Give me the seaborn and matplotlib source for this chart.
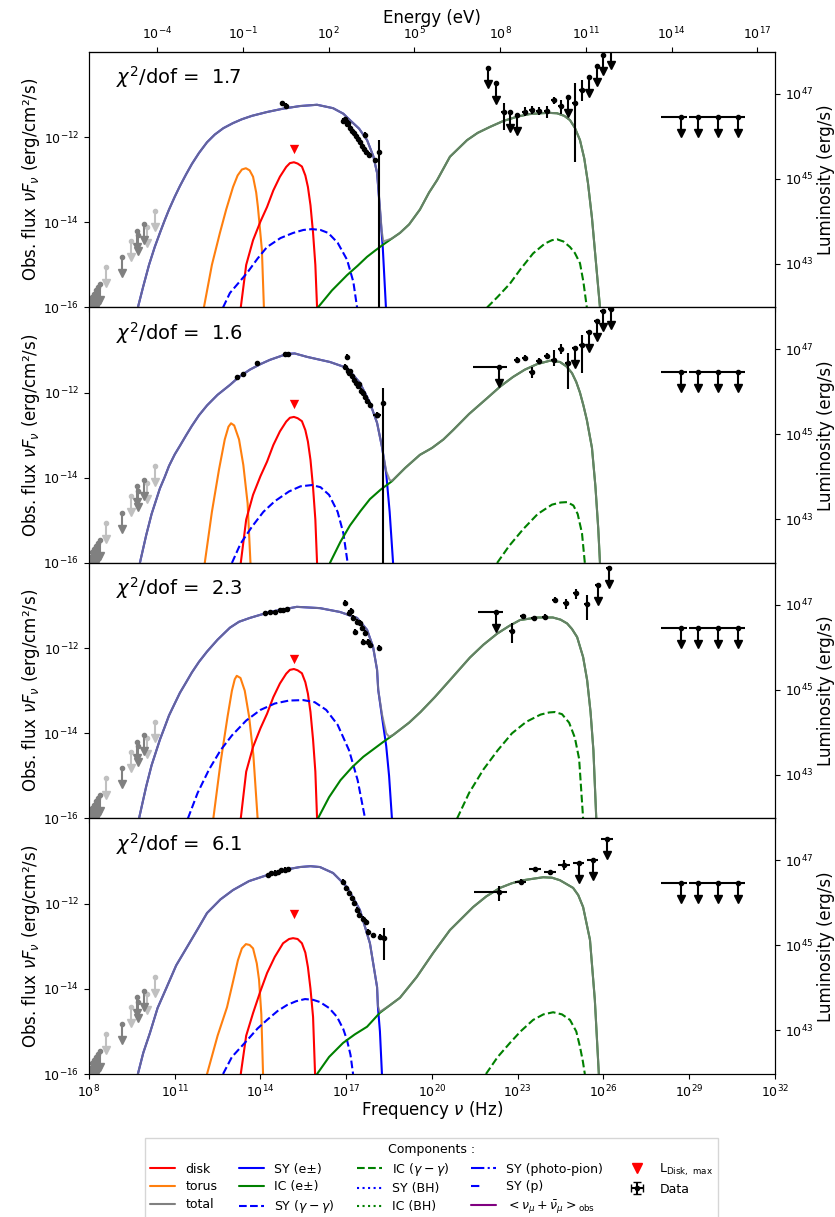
import numpy as np
import matplotlib
matplotlib.use('Agg')
import matplotlib.pyplot as plt
import matplotlib.ticker as mticker
from matplotlib.lines import Line2D
import seaborn as sns

# ---------------- data (log10 nu [Hz], log10 nuFnu [erg/cm2/s]) ----------------
CHI2 = ['1.7', '1.6', '2.3', '6.1']

# panel 1
P1_HUMP1_X = [9.71, 9.9, 10.1, 10.3, 10.48, 10.65, 10.8, 11.0, 11.18, 11.4, 11.6, 11.85, 12.13, 12.4, 12.7, 13.04, 13.35, 13.7, 14.23, 14.8, 15.38, 15.98, 16.54, 16.9, 17.13, 17.45, 17.73, 17.95, 18.08]
P1_HUMP1_Y = [-16.0, -15.5, -15.0, -14.58, -14.25, -13.95, -13.7, -13.4, -13.15, -12.87, -12.63, -12.37, -12.12, -11.94, -11.79, -11.67, -11.58, -11.5, -11.41, -11.33, -11.27, -11.24, -11.32, -11.45, -11.6, -11.8, -12.07, -12.45, -12.84]
P1_SYCUT_X = [18.18, 18.28, 18.39]
P1_SYCUT_Y = [-13.7, -14.6, -16.0]
P1_GAP_X = [18.18, 18.24, 18.3, 18.6]
P1_GAP_Y = [-13.65, -14.2, -14.45, -14.38]
P1_ICRISE_X = [16.01, 16.5, 17.03, 17.4, 17.73, 18.0, 18.3, 18.6]
P1_ICRISE_Y = [-16.0, -15.6, -15.24, -15.02, -14.81, -14.67, -14.52, -14.38]
P1_HUMP2_X = [18.88, 19.2, 19.58, 19.9, 20.18, 20.63, 21.23, 21.6, 22.03, 22.5, 22.98, 23.4, 23.78, 24.1, 24.38, 24.63, 24.83, 25.0, 25.18, 25.33, 25.46, 25.6, 25.7, 25.8, 25.88]
P1_HUMP2_Y = [-14.25, -14.05, -13.7, -13.3, -13.01, -12.46, -12.07, -11.9, -11.76, -11.62, -11.52, -11.46, -11.44, -11.43, -11.44, -11.5, -11.6, -11.78, -12.07, -12.5, -13.08, -13.9, -14.65, -15.4, -16.0]
P1_TORUS_X = [12.02, 12.3, 12.58, 12.8, 13.04, 13.2, 13.35, 13.49, 13.62, 13.74, 13.85, 13.91, 14.05, 14.12]
P1_TORUS_Y = [-16.0, -15.0, -14.25, -13.7, -13.17, -12.9, -12.76, -12.73, -12.78, -12.93, -13.3, -13.64, -14.65, -16.0]
P1_DISK_X = [13.31, 13.5, 13.74, 14.0, 14.23, 14.45, 14.68, 14.9, 15.03, 15.17, 15.3, 15.45, 15.57, 15.66, 15.75, 15.84, 15.92, 15.98]
P1_DISK_Y = [-16.0, -15.0, -14.42, -13.98, -13.64, -13.25, -12.93, -12.7, -12.61, -12.59, -12.62, -12.69, -12.9, -13.17, -13.6, -14.25, -15.0, -16.0]
P1_SYGG_X = [12.69, 12.93, 13.53, 13.9, 14.23, 14.7, 15.14, 15.5, 15.8, 16.1, 16.37, 16.7, 17.03, 17.25, 17.38]
P1_SYGG_Y = [-16.0, -15.66, -15.19, -14.85, -14.58, -14.37, -14.25, -14.18, -14.16, -14.18, -14.25, -14.48, -14.88, -15.4, -16.0]
P1_ICGG_X = [21.93, 22.3, 22.73, 23.1, 23.54, 23.95, 24.2, 24.38, 24.6, 24.83, 25.0, 25.18, 25.3, 25.42]
P1_ICGG_Y = [-16.0, -15.75, -15.44, -15.1, -14.73, -14.5, -14.42, -14.4, -14.45, -14.58, -14.72, -14.96, -15.4, -16.0]

# panel 2
P2_HUMP1_X = [9.78, 10.0, 10.19, 10.48, 10.65, 10.8, 11.0, 11.18, 11.4, 11.6, 11.85, 12.13, 12.5, 12.93, 13.25, 13.63, 14.0, 14.33, 14.93, 15.2, 15.63, 16.43, 17.03, 17.48, 17.83, 18.08, 18.25]
P2_HUMP1_Y = [-16.0, -15.35, -14.85, -14.25, -13.98, -13.72, -13.45, -13.25, -13.0, -12.78, -12.53, -12.3, -12.05, -11.82, -11.63, -11.46, -11.33, -11.23, -11.09, -11.08, -11.16, -11.28, -11.42, -11.77, -12.24, -12.71, -13.27]
P2_SYCUT_X = [18.4, 18.52, 18.64]
P2_SYCUT_Y = [-13.9, -14.8, -16.0]
P2_GAP_X = [18.4, 18.52, 18.6]
P2_GAP_Y = [-13.85, -14.05, -14.07]
P2_ICRISE_X = [16.43, 16.8, 17.13, 17.5, 17.83, 18.2, 18.6]
P2_ICRISE_Y = [-16.0, -15.5, -15.12, -14.78, -14.5, -14.28, -14.08]
P2_HUMP2_X = [19.06, 19.58, 20.0, 20.4, 20.74, 21.3, 21.93, 22.4, 22.84, 23.25, 23.68, 24.13, 24.48, 24.7, 24.9, 25.05, 25.18, 25.3, 25.42, 25.6, 25.72, 25.82, 25.88]
P2_HUMP2_Y = [-13.77, -13.46, -13.3, -13.1, -12.88, -12.5, -12.13, -11.85, -11.63, -11.46, -11.33, -11.25, -11.28, -11.38, -11.54, -11.75, -12.0, -12.3, -12.64, -13.3, -14.2, -15.2, -16.0]
P2_TORUS_X = [12.05, 12.3, 12.55, 12.75, 12.88, 12.97, 13.08, 13.25, 13.4, 13.55, 13.65]
P2_TORUS_Y = [-16.0, -14.8, -13.8, -13.1, -12.8, -12.72, -12.77, -13.1, -13.7, -14.6, -16.0]
P2_DISK_X = [13.31, 13.5, 13.74, 14.0, 14.23, 14.45, 14.68, 14.9, 15.03, 15.17, 15.3, 15.45, 15.57, 15.66, 15.75, 15.84, 15.92, 15.98]
P2_DISK_Y = [-16.0, -14.98, -14.4, -13.96, -13.62, -13.23, -12.91, -12.68, -12.59, -12.57, -12.6, -12.67, -12.88, -13.15, -13.58, -14.23, -14.98, -16.0]
P2_SYGG_X = [13.0, 13.3, 13.7, 14.1, 14.5, 15.0, 15.4, 15.8, 16.1, 16.4, 16.7, 16.9, 17.05]
P2_SYGG_Y = [-16.0, -15.55, -15.15, -14.8, -14.55, -14.32, -14.2, -14.17, -14.22, -14.4, -14.8, -15.3, -16.0]
P2_ICGG_X = [22.28, 22.7, 23.2, 23.7, 24.2, 24.5, 24.73, 24.95, 25.1, 25.25, 25.35]
P2_ICGG_Y = [-16.0, -15.6, -15.2, -14.85, -14.63, -14.58, -14.57, -14.65, -14.85, -15.3, -16.0]

# panel 3
P3_HUMP1_X = [9.75, 10.0, 10.19, 10.48, 10.65, 10.8, 11.0, 11.18, 11.4, 11.6, 11.85, 12.13, 12.5, 12.93, 13.25, 13.63, 14.33, 15.27, 16.08, 16.78, 17.38, 17.73, 17.94, 18.08, 18.12]
P3_HUMP1_Y = [-16.0, -15.25, -14.75, -14.15, -13.85, -13.58, -13.3, -13.05, -12.8, -12.57, -12.32, -12.08, -11.8, -11.52, -11.38, -11.29, -11.15, -11.03, -11.06, -11.15, -11.29, -11.57, -11.97, -12.51, -12.98]
P3_SYCUT_X = [18.25, 18.4, 18.5, 18.6]
P3_SYCUT_Y = [-13.6, -14.3, -15.0, -16.0]
P3_GAP_X = [18.25, 18.4, 18.5, 18.64]
P3_GAP_Y = [-13.55, -14.0, -14.08, -14.04]
P3_ICRISE_X = [16.01, 16.4, 16.8, 17.2, 17.6, 18.0, 18.3, 18.64]
P3_ICRISE_Y = [-16.0, -15.5, -15.1, -14.8, -14.55, -14.35, -14.2, -14.04]
P3_HUMP2_X = [19.2, 19.6, 20.1, 20.63, 21.33, 21.8, 22.28, 22.7, 23.08, 23.68, 24.23, 24.5, 24.73, 24.9, 25.08, 25.29, 25.43, 25.55, 25.65, 25.75]
P3_HUMP2_Y = [-13.75, -13.5, -13.15, -12.75, -12.22, -11.92, -11.66, -11.48, -11.34, -11.28, -11.28, -11.33, -11.42, -11.55, -11.74, -12.21, -12.75, -13.5, -14.4, -16.0]
P3_TORUS_X = [12.35, 12.6, 12.85, 13.0, 13.1, 13.17, 13.3, 13.45, 13.6, 13.75, 13.9]
P3_TORUS_Y = [-16.0, -14.7, -13.6, -13.0, -12.73, -12.65, -12.7, -13.0, -13.6, -14.5, -16.0]
P3_DISK_X = [13.31, 13.5, 13.74, 14.0, 14.23, 14.45, 14.68, 14.9, 15.03, 15.17, 15.3, 15.45, 15.57, 15.66, 15.75, 15.84, 15.92, 15.98]
P3_DISK_Y = [-16.0, -14.9, -14.32, -13.88, -13.54, -13.15, -12.83, -12.6, -12.51, -12.49, -12.52, -12.59, -12.8, -13.07, -13.5, -14.15, -14.9, -16.0]
P3_SYGG_X = [11.46, 11.8, 12.2, 12.6, 13.0, 13.5, 14.0, 14.5, 15.0, 15.5, 15.9, 16.3, 16.7, 17.1, 17.4, 17.66]
P3_SYGG_Y = [-16.0, -15.4, -14.85, -14.4, -14.05, -13.7, -13.45, -13.3, -13.23, -13.22, -13.27, -13.45, -13.8, -14.4, -15.1, -16.0]
P3_ICGG_X = [20.88, 21.3, 21.8, 22.3, 22.8, 23.3, 23.8, 24.1, 24.3, 24.55, 24.8, 25.0, 25.15, 25.29]
P3_ICGG_Y = [-16.0, -15.4, -14.85, -14.4, -14.0, -13.73, -13.56, -13.51, -13.5, -13.55, -13.75, -14.1, -14.6, -16.0]

# panel 4
P4_HUMP1_X = [9.71, 9.9, 10.13, 10.4, 10.72, 11.05, 11.43, 11.8, 12.13, 12.6, 13.04, 13.6, 14.23, 14.8, 15.38, 15.75, 16.08, 16.54, 17.03, 17.48, 17.83, 18.08]
P4_HUMP1_Y = [-16.0, -15.5, -15.04, -14.45, -13.96, -13.45, -13.02, -12.6, -12.22, -11.9, -11.68, -11.47, -11.33, -11.21, -11.14, -11.12, -11.14, -11.28, -11.61, -12.15, -12.93, -13.96]
P4_SYCUT_X = [18.11, 18.18, 18.25]
P4_SYCUT_Y = [-14.43, -15.0, -16.0]
P4_GAP_X = [18.11, 18.15, 18.18, 18.5]
P4_GAP_Y = [-14.4, -14.5, -14.54, -14.4]
P4_ICRISE_X = [15.98, 16.4, 16.89, 17.3, 17.73, 18.18, 18.5]
P4_ICRISE_Y = [-16.0, -15.6, -15.27, -15.07, -14.89, -14.56, -14.4]
P4_HUMP2_X = [18.88, 19.47, 20.04, 20.63, 21.44, 21.9, 22.38, 22.8, 23.19, 23.89, 24.2, 24.48, 24.94, 25.12, 25.29, 25.53, 25.70, 25.84]
P4_HUMP2_Y = [-14.21, -13.72, -13.16, -12.62, -12.08, -11.83, -11.63, -11.52, -11.45, -11.38, -11.39, -11.45, -11.63, -11.8, -12.08, -12.85, -14.26, -16.0]
P4_TORUS_X = [12.13, 12.5, 12.83, 13.05, 13.21, 13.35, 13.49, 13.62, 13.74, 13.87, 13.95, 14.03, 14.09]
P4_TORUS_Y = [-16.0, -15.1, -14.43, -13.8, -13.33, -13.05, -12.95, -12.97, -13.05, -13.4, -13.79, -14.6, -16.0]
P4_DISK_X = [13.31, 13.5, 13.74, 14.0, 14.23, 14.5, 14.79, 15.0, 15.14, 15.3, 15.45, 15.57, 15.66, 15.75, 15.84, 15.91]
P4_DISK_Y = [-16.0, -15.1, -14.57, -14.05, -13.63, -13.25, -12.93, -12.83, -12.81, -12.83, -12.93, -13.15, -13.49, -14.0, -14.66, -16.0]
P4_SYGG_X = [12.69, 13.0, 13.53, 13.9, 14.23, 14.6, 14.93, 15.25, 15.56, 15.85, 16.08, 16.4, 16.68, 16.9, 17.03, 17.15, 17.24]
P4_SYGG_Y = [-16.0, -15.6, -15.21, -14.93, -14.73, -14.52, -14.38, -14.29, -14.24, -14.26, -14.31, -14.45, -14.66, -14.95, -15.21, -15.55, -16.0]
P4_ICGG_X = [21.89, 22.3, 22.73, 23.1, 23.54, 23.9, 24.24, 24.55, 24.83, 25.05, 25.18, 25.28, 25.35]
P4_ICGG_Y = [-16.0, -15.6, -15.27, -15.0, -14.73, -14.6, -14.55, -14.6, -14.73, -15.0, -15.36, -15.7, -16.0]

# L_disk,max markers
LDISK_X = [15.17, 15.17, 15.17, 15.17]
LDISK_Y = [-12.28, -12.27, -12.26, -12.24]

# radio upper limits (same in every panel)
RADIO_LIGHT_X = [8.58, 9.47, 10.04, 10.31]
RADIO_LIGHT_Y = [-15.06, -14.43, -14.12, -13.73]
RADIO_DARK_X = [8.03, 8.1, 8.17, 8.25, 8.33, 8.4, 9.14, 9.69, 9.72, 9.91]
RADIO_DARK_Y = [-15.85, -15.75, -15.68, -15.6, -15.52, -15.45, -14.82, -14.2, -14.3, -14.04]

# VHE upper limits (same in every panel)
VHE_X = [28.71, 29.31, 30.01, 30.71]
VHE_Y = [-11.52, -11.52, -11.52, -11.52]
VHE_XLO = [28.01, 28.98, 29.61, 30.36]
VHE_XHI = [28.93, 29.61, 30.36, 30.95]

# optical / UV
OPT1_X = [14.75, 14.9]
OPT1_Y = [-11.2, -11.26]
OPT2_X = [13.18, 13.39, 13.87, 14.86, 14.97]
OPT2_Y = [-11.63, -11.56, -11.3, -11.09, -11.09]
OPT3_X = [14.16, 14.33, 14.51, 14.68, 14.79, 14.93]
OPT3_Y = [-11.18, -11.16, -11.15, -11.11, -11.1, -11.08]
OPT4_X = [14.26, 14.38, 14.5, 14.6, 14.72, 14.85, 14.95]
OPT4_Y = [-11.32, -11.29, -11.27, -11.25, -11.22, -11.2, -11.18]

# X-rays
XR1_X = [16.9, 16.97, 17.03, 17.08, 17.13, 17.2, 17.27, 17.33, 17.4, 17.47, 17.55, 17.62, 17.7, 17.78, 17.66, 18.0]
XR1_Y = [-11.62, -11.58, -11.7, -11.66, -11.78, -11.85, -11.9, -11.98, -12.05, -12.12, -12.2, -12.28, -12.35, -12.42, -11.95, -12.54]
XR2_X = [17.03, 16.96, 17.05, 17.1, 17.15, 17.2, 17.27, 17.33, 17.4, 17.45, 17.5, 17.58, 17.65, 17.72, 17.83, 18.07]
XR2_Y = [-11.16, -11.39, -11.48, -11.55, -11.5, -11.62, -11.7, -11.78, -11.85, -11.8, -11.95, -12.02, -12.1, -12.2, -12.29, -12.52]
XR3_X = [16.96, 17.1, 17.17, 17.24, 17.38, 17.48, 17.55, 17.31, 17.59, 17.66, 17.76, 17.83, 18.15]
XR3_Y = [-10.95, -11.17, -11.13, -11.3, -11.39, -11.41, -11.53, -11.62, -11.86, -11.65, -11.86, -11.93, -12.0]
XR4_X = [16.9, 17.01, 17.11, 17.19, 17.27, 17.37, 17.46, 17.6, 17.69, 17.76, 17.95, 18.18]
XR4_Y = [-11.48, -11.64, -11.76, -11.87, -11.99, -12.15, -12.26, -12.36, -12.42, -12.66, -12.74, -12.78]
# X-ray points with a large error bar (x, y, ylow, yhigh)
XBIG_X = [18.15, 18.3, 18.3, 18.32]
XBIG_Y = [-12.36, -12.25, -17.0, -12.81]
XBIG_LO = [-17.0, -17.0, -17.0, -13.32]
XBIG_HI = [-12.07, -11.89, -17.0, -12.58]

# Fermi-LAT detections
FD1_X = [22.52, 23.25, 23.5, 23.75, 24.02, 24.27, 24.51, 25.01, 25.25]
FD1_Y = [-11.4, -11.4, -11.36, -11.39, -11.39, -11.13, -11.26, -11.21, -10.89]
FD1_LO = [-11.83, -11.5, -11.45, -11.48, -11.55, -11.22, -11.45, -12.58, -11.15]
FD1_HI = [-11.2, -11.3, -11.27, -11.3, -11.26, -11.05, -11.12, -10.73, -10.65]
FD2_X = [22.98, 23.26, 23.5, 23.75, 24.03, 24.26, 24.51, 24.76, 25.24]
FD2_Y = [-11.23, -11.19, -11.51, -11.26, -11.14, -11.23, -10.98, -11.31, -10.88]
FD2_LO = [-11.3, -11.26, -11.65, -11.33, -11.2, -11.37, -11.1, -11.91, -11.53]
FD2_HI = [-11.16, -11.12, -11.39, -11.19, -11.08, -11.0, -10.86, -11.07, -10.65]
FD3_X = [22.8, 23.19, 23.57, 23.95, 24.3, 24.69, 25.04, 25.42]
FD3_Y = [-11.6, -11.25, -11.29, -11.27, -10.87, -10.94, -10.71, -10.96]
FD3_LO = [-11.88, -11.3, -11.34, -11.33, -10.95, -11.08, -10.85, -11.34]
FD3_HI = [-11.41, -11.2, -11.24, -11.2, -10.8, -10.84, -10.6, -10.75]
FD4_X = [22.35, 23.1, 23.61, 24.13, 24.62]
FD4_Y = [-11.72, -11.48, -11.19, -11.26, -11.09]
FD4_LO = [-11.93, -11.55, -11.23, -11.32, -11.2]
FD4_HI = [-11.59, -11.42, -11.15, -11.2, -10.98]
FD4_XLO = [21.47, 22.9, 23.41, 23.93, 24.42]
FD4_XHI = [22.62, 23.3, 23.81, 24.33, 24.82]

# Fermi-LAT upper limits
FU1_X = [21.96, 22.24, 22.73, 22.98, 24.76, 25.5, 25.76, 26.0, 26.26]
FU1_Y = [-10.38, -10.74, -11.41, -11.48, -11.05, -10.58, -10.34, -10.07, -9.92]
FU2_X = [22.35, 25.0, 25.49, 25.77, 25.98, 26.26]
FU2_Y = [-11.39, -10.96, -10.57, -10.32, -10.08, -10.04]
FU2_XLO = [21.44, 24.9, 25.39, 25.67, 25.88, 26.16]
FU2_XHI = [22.63, 25.1, 25.59, 25.87, 26.08, 26.36]
FU3_X = [22.24, 25.81, 26.19]
FU3_Y = [-11.14, -10.52, -10.12]
FU3_XLO = [21.61, 25.71, 26.09]
FU3_XHI = [22.49, 25.91, 26.29]
FU4_X = [25.13, 25.62, 26.12]
FU4_Y = [-11.04, -10.97, -10.47]
FU4_XLO = [24.93, 25.42, 25.92]
FU4_XHI = [25.33, 25.82, 26.32]

H_EV = 4.135667e-15      # eV s
LUM_FACTOR = 9.5e57      # 4 pi d_L^2 in cm^2

sns.set_style('ticks', {'axes.edgecolor': 'black', 'xtick.color': 'black', 'ytick.color': 'black',
                        'text.color': 'black', 'axes.labelcolor': 'black'})
plt.rcParams['font.family'] = ['DejaVu Sans']
plt.rcParams['mathtext.fontset'] = 'dejavusans'
plt.rcParams['xtick.labelsize'] = 9
plt.rcParams['ytick.labelsize'] = 9


def p10(a):
    return np.power(10.0, np.asarray(a, dtype=float))


def curve(ax, xs, ys, color, ls='-', alpha=1.0, z=2):
    sns.lineplot(x=p10(xs), y=p10(ys), ax=ax, color=color, linestyle=ls, lw=1.5,
                 alpha=alpha, estimator=None, sort=False, legend=False, zorder=z)


def detections(ax, x, y, lo, hi, xlo=None, xhi=None, dx=0.0):
    xv, yv = p10(x), p10(y)
    yerr = [yv - p10(lo), p10(hi) - yv]
    xerr = None
    if xlo is not None:
        xerr = [xv - p10(xlo), p10(xhi) - xv]
    elif dx > 0:
        xerr = [xv - xv / 10**dx, xv * 10**dx - xv]
    ax.errorbar(xv, yv, yerr=yerr, xerr=xerr, fmt='o', ms=3, color='k',
                elinewidth=1.5, capsize=0, zorder=6)


def upper_limits(ax, x, y, color, xlo=None, xhi=None):
    xv, yv = p10(x), p10(y)
    tip = yv * 0.42
    xerr = None
    if xlo is not None:
        xerr = [xv - p10(xlo), p10(xhi) - xv]
    ax.errorbar(xv, yv, yerr=[yv - tip, np.zeros_like(yv)], xerr=xerr, fmt='o', ms=3,
                color=color, elinewidth=1.5, capsize=0, zorder=6)
    ax.plot(xv, tip, 'v', color=color, ms=6, ls='none', zorder=6)


def small_err(ax, x, y, dy=0.05, dx=0.0):
    xv, yv = p10(x), p10(y)
    yerr = [yv - yv / 10**dy, yv * 10**dy - yv]
    xerr = None
    if dx > 0:
        xerr = [xv - xv / 10**dx, xv * 10**dx - xv]
    ax.errorbar(xv, yv, yerr=yerr, xerr=xerr, fmt='o', ms=3, color='k',
                elinewidth=1.5, capsize=0, zorder=6)


panels = [
    (P1_HUMP1_X, P1_HUMP1_Y, P1_SYCUT_X, P1_SYCUT_Y, P1_GAP_X, P1_GAP_Y, P1_ICRISE_X, P1_ICRISE_Y,
     P1_HUMP2_X, P1_HUMP2_Y, P1_TORUS_X, P1_TORUS_Y, P1_DISK_X, P1_DISK_Y, P1_SYGG_X, P1_SYGG_Y,
     P1_ICGG_X, P1_ICGG_Y),
    (P2_HUMP1_X, P2_HUMP1_Y, P2_SYCUT_X, P2_SYCUT_Y, P2_GAP_X, P2_GAP_Y, P2_ICRISE_X, P2_ICRISE_Y,
     P2_HUMP2_X, P2_HUMP2_Y, P2_TORUS_X, P2_TORUS_Y, P2_DISK_X, P2_DISK_Y, P2_SYGG_X, P2_SYGG_Y,
     P2_ICGG_X, P2_ICGG_Y),
    (P3_HUMP1_X, P3_HUMP1_Y, P3_SYCUT_X, P3_SYCUT_Y, P3_GAP_X, P3_GAP_Y, P3_ICRISE_X, P3_ICRISE_Y,
     P3_HUMP2_X, P3_HUMP2_Y, P3_TORUS_X, P3_TORUS_Y, P3_DISK_X, P3_DISK_Y, P3_SYGG_X, P3_SYGG_Y,
     P3_ICGG_X, P3_ICGG_Y),
    (P4_HUMP1_X, P4_HUMP1_Y, P4_SYCUT_X, P4_SYCUT_Y, P4_GAP_X, P4_GAP_Y, P4_ICRISE_X, P4_ICRISE_Y,
     P4_HUMP2_X, P4_HUMP2_Y, P4_TORUS_X, P4_TORUS_Y, P4_DISK_X, P4_DISK_Y, P4_SYGG_X, P4_SYGG_Y,
     P4_ICGG_X, P4_ICGG_Y),
]

fig, axes = plt.subplots(4, 1, figsize=(8.35, 12.17), dpi=100, sharex=True)
fig.subplots_adjust(left=0.1066, right=0.928, top=0.9573, bottom=0.1175, hspace=0)

for i, ax in enumerate(axes):
    (h1x, h1y, scx, scy, gx, gy, irx, iry, h2x, h2y,
     tx, ty, dx_, dy_, sgx, sgy, igx, igy) = panels[i]
    ax.set_xscale('log')
    ax.set_yscale('log')

    # model components
    curve(ax, tx, ty, '#ff7f0e')
    curve(ax, dx_, dy_, 'red')
    curve(ax, sgx, sgy, 'blue', ls='--')
    curve(ax, igx, igy, 'green', ls='--')
    curve(ax, h1x + scx, h1y + scy, 'blue')
    curve(ax, irx + h2x, iry + h2y, 'green')
    curve(ax, h1x + gx + h2x, h1y + gy + h2y, 'grey', alpha=0.8, z=3)

    # data shared by all panels
    upper_limits(ax, RADIO_LIGHT_X, RADIO_LIGHT_Y, 'silver')
    upper_limits(ax, RADIO_DARK_X, RADIO_DARK_Y, 'grey')
    upper_limits(ax, VHE_X, VHE_Y, 'k', xlo=VHE_XLO, xhi=VHE_XHI)
    ax.scatter(p10(LDISK_X[i]), p10(LDISK_Y[i]), marker='v', s=45, color='red', zorder=6, linewidths=0)

    ax.set_xlim(1e8, 1e32)
    ax.set_ylim(1e-16, 1e-10)
    ax.set_yticks([1e-16, 1e-14, 1e-12])
    ax.set_xticks([10.0**k for k in range(8, 33, 3)])
    ax.xaxis.set_minor_locator(mticker.NullLocator())
    ax.yaxis.set_minor_locator(mticker.NullLocator())
    ax.set_ylabel(r'Obs. flux $\nu F_\nu$ (erg/cm²/s)', fontsize=12, labelpad=1)
    ax.text(0.04, 0.90, r'$\chi^2$/dof =  ' + CHI2[i], transform=ax.transAxes,
            fontsize=14, va='center', ha='left')

    lum = ax.twinx()
    lum.set_yscale('log')
    lum.set_ylim(1e-16 * LUM_FACTOR, 1e-10 * LUM_FACTOR)
    lum.set_yticks([1e43, 1e45, 1e47])
    lum.yaxis.set_minor_locator(mticker.NullLocator())
    lum.set_ylabel('Luminosity (erg/s)', fontsize=12, labelpad=3)

# panel-specific data
small_err(axes[0], OPT1_X, OPT1_Y, dx=0.05)
small_err(axes[0], XR1_X, XR1_Y, dy=0.06)
detections(axes[0], FD1_X, FD1_Y, FD1_LO, FD1_HI, dx=0.1)
upper_limits(axes[0], FU1_X, FU1_Y, 'k')

small_err(axes[1], OPT2_X, OPT2_Y, dx=0.05)
small_err(axes[1], XR2_X, XR2_Y, dy=0.06)
detections(axes[1], FD2_X, FD2_Y, FD2_LO, FD2_HI, dx=0.1)
upper_limits(axes[1], FU2_X, FU2_Y, 'k', xlo=FU2_XLO, xhi=FU2_XHI)

small_err(axes[2], OPT3_X, OPT3_Y, dx=0.05)
small_err(axes[2], XR3_X, XR3_Y, dy=0.07)
detections(axes[2], FD3_X, FD3_Y, FD3_LO, FD3_HI, dx=0.1)
upper_limits(axes[2], FU3_X, FU3_Y, 'k', xlo=FU3_XLO, xhi=FU3_XHI)

small_err(axes[3], OPT4_X, OPT4_Y, dx=0.05)
small_err(axes[3], XR4_X, XR4_Y, dy=0.06)
detections(axes[3], FD4_X, FD4_Y, FD4_LO, FD4_HI, xlo=FD4_XLO, xhi=FD4_XHI)
upper_limits(axes[3], FU4_X, FU4_Y, 'k', xlo=FU4_XLO, xhi=FU4_XHI)

# X-ray points with a large error bar
for k in [0, 1, 3]:
    detections(axes[k], [XBIG_X[k]], [XBIG_Y[k]], [XBIG_LO[k]], [XBIG_HI[k]])
small_err(axes[1], [18.07], [-12.52], dx=0.14)

axes[-1].set_xlabel(r'Frequency $\nu$ (Hz)', fontsize=12, labelpad=-1)

# top energy axis
sec = axes[0].secondary_xaxis('top', functions=(lambda nu: nu * H_EV, lambda e: e / H_EV))
sec.set_xticks([10.0**k for k in range(-4, 18, 3)])
sec.xaxis.set_minor_locator(mticker.NullLocator())
sec.set_xlabel('Energy (eV)', fontsize=12, labelpad=2)

# legend
handles = [
    Line2D([], [], color='red', lw=1.5),
    Line2D([], [], color='#ff7f0e', lw=1.5),
    Line2D([], [], color='grey', lw=1.5),
    Line2D([], [], color='blue', lw=1.5),
    Line2D([], [], color='green', lw=1.5),
    Line2D([], [], color='blue', lw=1.5, ls='--'),
    Line2D([], [], color='green', lw=1.5, ls='--'),
    Line2D([], [], color='blue', lw=1.5, ls=':'),
    Line2D([], [], color='green', lw=1.5, ls=':'),
    Line2D([], [], color='blue', lw=1.5, ls='-.'),
    Line2D([], [], color='blue', lw=1.5, ls=(0, (4, 20))),
    Line2D([], [], color='purple', lw=1.5),
    Line2D([], [], color='red', marker='v', ls='none', ms=7),
    axes[-1].errorbar([np.nan], [np.nan], xerr=[1.0], yerr=[1.0], fmt='o', ms=3, color='k', capsize=3),
]
labels = ['disk', 'torus', 'total', 'SY (e±)', 'IC (e±)', r'SY ($\gamma-\gamma$)',
          r'IC ($\gamma-\gamma$)', 'SY (BH)', 'IC (BH)', 'SY (photo-pion)', 'SY (p)',
          r'$<\nu_\mu+\bar{\nu}_\mu>_{\rm obs}$', r'L$_{\rm Disk,\ max}$', 'Data']
axes[-1].legend(handles, labels, loc='upper center', bbox_to_anchor=(0.5, -0.226), ncol=5,
                fontsize=9, title='Components :', title_fontsize=9, frameon=True,
                fancybox=False, edgecolor='0.8', columnspacing=1.75, labelspacing=0.38)

fig.savefig('out.png', dpi=100)
